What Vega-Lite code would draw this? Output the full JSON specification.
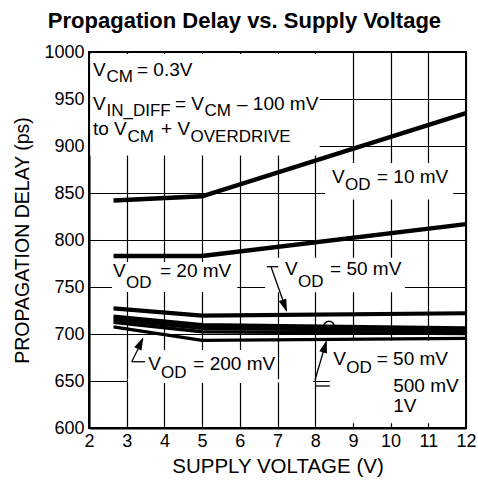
{
  "$schema": "https://vega.github.io/schema/vega-lite/v6.json",
  "width": 377,
  "height": 376,
  "autosize": {"type": "none"},
  "padding": {"left": 89, "top": 52, "right": 12, "bottom": 61},
  "background": "white",
  "title": {
    "text": "Propagation Delay vs. Supply Voltage",
    "font": "Liberation Sans",
    "fontSize": 22,
    "fontWeight": "bold",
    "color": "black",
    "anchor": "middle",
    "frame": "bounds",
    "baseline": "bottom",
    "offset": 21,
    "dy": 33
  },
  "config": {
    "view": {"stroke": "black", "strokeWidth": 2},
    "axis": {
      "domainColor": "black",
      "domainWidth": 2,
      "grid": true,
      "gridColor": "black",
      "gridWidth": 1.2,
      "gridOpacity": 1,
      "ticks": false,
      "labelFont": "Liberation Sans",
      "labelFontSize": 18,
      "labelColor": "black",
      "labelFlush": false,
      "titleFont": "Liberation Sans",
      "titleFontSize": 19.5,
      "titleFontWeight": "normal",
      "titleColor": "black"
    }
  },
  "datasets": {
    "curves": [
      {"series": "10mV", "v": 2.65, "d": 842},
      {"series": "10mV", "v": 5, "d": 846.5},
      {"series": "10mV", "v": 12, "d": 935},
      {"series": "20mV", "v": 2.65, "d": 783},
      {"series": "20mV", "v": 5, "d": 783},
      {"series": "20mV", "v": 12, "d": 817},
      {"series": "50mV-upper", "v": 2.65, "d": 727.3},
      {"series": "50mV-upper", "v": 5, "d": 719.6},
      {"series": "50mV-upper", "v": 12, "d": 722},
      {"series": "50mV", "v": 2.65, "d": 718.6},
      {"series": "50mV", "v": 5, "d": 709.6},
      {"series": "50mV", "v": 12, "d": 706.2},
      {"series": "500mV", "v": 2.65, "d": 715.5},
      {"series": "500mV", "v": 5, "d": 706.1},
      {"series": "500mV", "v": 12, "d": 703.4},
      {"series": "1V", "v": 2.65, "d": 712.5},
      {"series": "1V", "v": 5, "d": 702.4},
      {"series": "1V", "v": 12, "d": 700.5},
      {"series": "200mV", "v": 2.65, "d": 707.5},
      {"series": "200mV", "v": 5, "d": 693.3},
      {"series": "200mV", "v": 12, "d": 695.4}
    ],
    "boxes": [
      {"v": 2.03, "v2": 8.12, "d": 890, "d2": 998},
      {"v": 8.26, "v2": 11.66, "d": 843, "d2": 882},
      {"v": 2.61, "v2": 5.93, "d": 744.7, "d2": 776.6},
      {"v": 6.67, "v2": 10.38, "d": 744.5, "d2": 781},
      {"v": 3.45, "v2": 6.95, "d": 648, "d2": 683},
      {"v": 3.03, "v2": 7.95, "d": 648.5, "d2": 652},
      {"v": 8.39, "v2": 11.97, "d": 605, "d2": 693}
    ],
    "arrows": [
      {"id": "a50", "v": 6.83, "d": 771.3},
      {"id": "a50", "v": 7.24, "d": 725},
      {"id": "a50bar", "v": 6.716, "d": 771.6},
      {"id": "a50bar", "v": 7.02, "d": 771.6},
      {"id": "a200", "v": 3.133, "d": 670.5},
      {"id": "a200", "v": 3.43, "d": 694.5},
      {"id": "a200bar", "v": 3.133, "d": 670.5},
      {"id": "a200bar", "v": 3.485, "d": 670.5},
      {"id": "aR", "v": 7.995, "d": 651.1},
      {"id": "aR", "v": 8.29, "d": 691.5},
      {"id": "aRbar", "v": 7.995, "d": 644.7},
      {"id": "aRbar", "v": 8.39, "d": 644.7}
    ],
    "mainText": [
      {"v": 2.106, "d": 974.5, "t": "V"},
      {"v": 3.273, "d": 974.5, "t": "= 0.3V"},
      {"v": 2.106, "d": 938.3, "t": "V"},
      {"v": 4.281, "d": 938.3, "t": "= V"},
      {"v": 5.926, "d": 938.3, "t": "– 100 mV"},
      {"v": 2.106, "d": 911.7, "t": "to V"},
      {"v": 3.91, "d": 911.7, "t": "+ V"},
      {"v": 8.446, "d": 860.3, "t": "V"},
      {"v": 9.639, "d": 860.3, "t": "= 10 mV"},
      {"v": 2.637, "d": 761, "t": "V"},
      {"v": 3.883, "d": 761, "t": "= 20 mV"},
      {"v": 7.199, "d": 762.8, "t": "V"},
      {"v": 8.393, "d": 762.8, "t": "= 50 mV"},
      {"v": 3.573, "d": 661.7, "t": "V"},
      {"v": 4.767, "d": 661.7, "t": "= 200 mV"},
      {"v": 8.48, "d": 667, "t": "V"},
      {"v": 9.631, "d": 667, "t": "= 50 mV"},
      {"v": 10.07, "d": 638.6, "t": "500 mV"},
      {"v": 10.07, "d": 617.3, "t": "1V"}
    ],
    "subText": [
      {"v": 2.464, "d": 968.4, "t": "CM"},
      {"v": 2.464, "d": 931.9, "t": "IN_DIFF"},
      {"v": 5.064, "d": 931.9, "t": "CM"},
      {"v": 3.021, "d": 904.6, "t": "CM"},
      {"v": 4.692, "d": 904.6, "t": "OVERDRIVE"},
      {"v": 8.79, "d": 853.2, "t": "OD"},
      {"v": 2.981, "d": 748.6, "t": "OD"},
      {"v": 7.544, "d": 750.3, "t": "OD"},
      {"v": 3.91, "d": 652.9, "t": "OD"},
      {"v": 8.825, "d": 658.2, "t": "OD"}
    ]
  },
  "encoding": {
    "x": {
      "field": "v",
      "type": "quantitative",
      "scale": {"domain": [2, 12], "nice": false, "zero": false},
      "axis": {"values": [2, 3, 4, 5, 6, 7, 8, 9, 10, 11, 12], "labelPadding": 4, "titlePadding": 6, "titleFontSize": 20.5},
      "title": "SUPPLY VOLTAGE (V)"
    },
    "y": {
      "field": "d",
      "type": "quantitative",
      "scale": {"domain": [600, 1000], "nice": false, "zero": false},
      "axis": {"values": [600, 650, 700, 750, 800, 850, 900, 950, 1000], "format": "d", "labelPadding": 5, "titlePadding": 11},
      "title": "PROPAGATION DELAY (ps)"
    }
  },
  "layer": [
    {
      "data": {"name": "boxes"},
      "mark": {"type": "rect", "fill": "white", "stroke": null},
      "encoding": {
        "x2": {"field": "v2"},
        "y2": {"field": "d2"}
      }
    },
    {
      "data": {"name": "curves"},
      "mark": {"type": "line", "color": "black", "strokeCap": "butt"},
      "encoding": {
        "detail": {"field": "series"},
        "strokeWidth": {
          "field": "series",
          "type": "nominal",
          "scale": {
            "domain": ["10mV", "20mV", "50mV-upper", "50mV", "500mV", "1V", "200mV"],
            "range": [4.5, 3.3, 2.7, 3, 3, 3, 2.4]
          },
          "legend": null
        }
      }
    },
    {
      "data": {"name": "arrows"},
      "mark": {"type": "line", "color": "black", "strokeWidth": 1.3},
      "encoding": {"detail": {"field": "id"}}
    },
    {
      "data": {"values": [{"v": 7.25, "d": 723.4}]},
      "mark": {"type": "point", "shape": "M0,0L0.5,1.6L-0.5,1.6Z", "filled": true, "color": "black", "opacity": 1, "size": 256, "angle": 160},
      "encoding": {}
    },
    {
      "data": {"values": [{"v": 3.44, "d": 696.5}]},
      "mark": {"type": "point", "shape": "M0,0L0.5,1.6L-0.5,1.6Z", "filled": true, "color": "black", "opacity": 1, "size": 256, "angle": 25},
      "encoding": {}
    },
    {
      "data": {"values": [{"v": 8.305, "d": 693.6}]},
      "mark": {"type": "point", "shape": "M0,0L0.5,1.6L-0.5,1.6Z", "filled": true, "color": "black", "opacity": 1, "size": 256, "angle": 16},
      "encoding": {}
    },
    {
      "data": {"values": [{"v": 8.366, "d": 708}]},
      "mark": {"type": "point", "shape": "circle", "filled": false, "color": "black", "opacity": 1, "strokeWidth": 1.5, "size": 110},
      "encoding": {}
    },
    {
      "data": {"name": "mainText"},
      "mark": {"type": "text", "font": "Liberation Sans", "fontSize": 19, "align": "left", "baseline": "alphabetic", "color": "black"},
      "encoding": {"text": {"field": "t"}}
    },
    {
      "data": {"name": "subText"},
      "mark": {"type": "text", "font": "Liberation Sans", "fontSize": 17, "align": "left", "baseline": "alphabetic", "color": "black"},
      "encoding": {"text": {"field": "t"}}
    }
  ]
}
